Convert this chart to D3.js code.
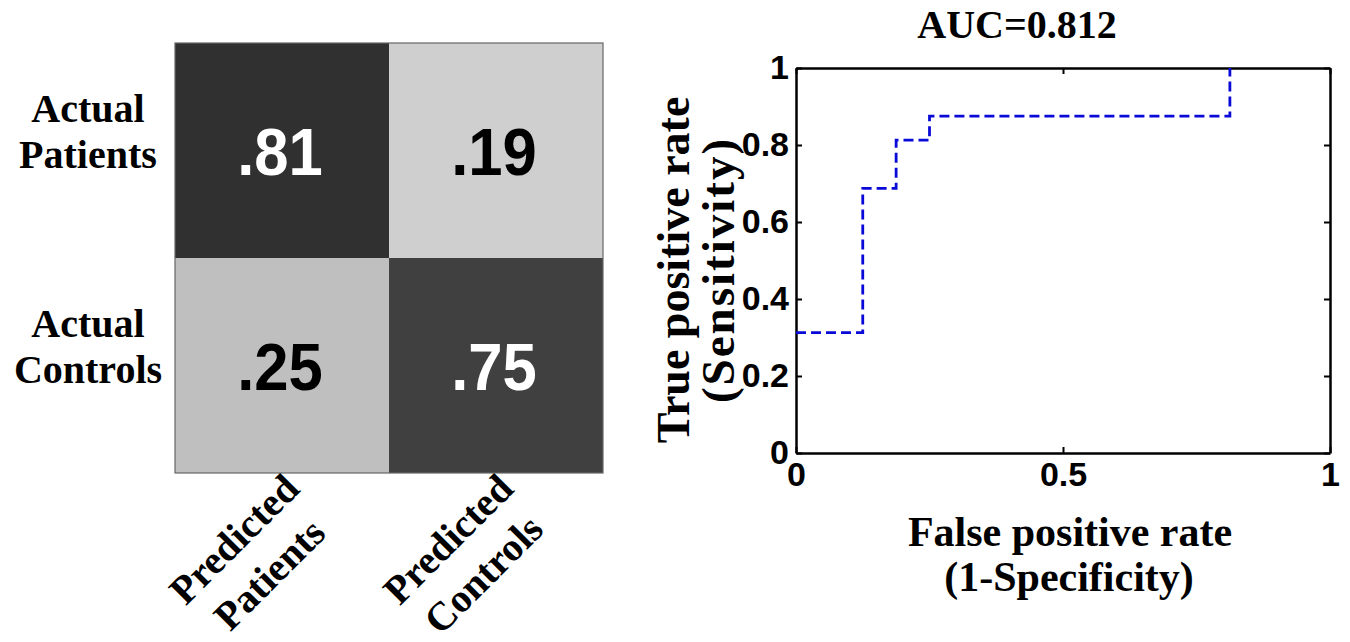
<!DOCTYPE html>
<html>
<head>
<meta charset="utf-8">
<script src="https://cdn.jsdelivr.net/npm/d3@7"></script>
<style>
  body { margin: 0; background: #fff; }
  .serif { font-family: "Liberation Serif", "Times New Roman", serif; font-weight: bold; }
  .sans { font-family: "Liberation Sans", Arial, sans-serif; font-weight: bold; }
</style>
</head>
<body>
<div class="canvas"></div>
<script>
const width = 1350;
const height = 642;

// confusion matrix data
const rowLabels = [["Actual", "Patients"], ["Actual", "Controls"]];
const colLabels = [["Predicted", "Patients"], ["Predicted", "Controls"]];
const matrixValues = [[0.81, 0.19], [0.25, 0.75]];

// roc curve data
const fpr = [0, 0.125, 0.125, 0.1875, 0.1875, 0.25, 0.25, 0.8125, 0.8125];
const tpr = [0.3125, 0.3125, 0.6875, 0.6875, 0.8125, 0.8125, 0.875, 0.875, 1];
const xTicks = [0, 0.5, 1];
const yTicks = [0, 0.2, 0.4, 0.6, 0.8, 1];
const auc = 0.812;

const svg = d3
  .select(".canvas")
  .append("svg")
  .attr("width", width)
  .attr("height", height);

svg.append("rect").attr("width", width).attr("height", height).attr("fill", "#fff");

// ---------- confusion matrix ----------
const mx = d3.scaleBand().domain([0, 1]).range([175, 603]);
const my = d3.scaleBand().domain([0, 1]).range([43, 473]);
const grey = d3.scaleLinear().domain([0, 1]).range(["#ffffff", "#000000"]);

const cells = [];
matrixValues.forEach((row, r) => row.forEach((v, c) => cells.push({ r, c, v })));

const matrix = svg.append("g");

matrix
  .selectAll("rect.cell")
  .data(cells)
  .enter()
  .append("rect")
  .attr("class", "cell")
  .attr("x", d => mx(d.c))
  .attr("y", d => my(d.r))
  .attr("width", mx.bandwidth())
  .attr("height", my.bandwidth())
  .attr("fill", d => grey(d.v));

matrix
  .append("rect")
  .attr("x", 175)
  .attr("y", 43)
  .attr("width", 428)
  .attr("height", 430)
  .attr("fill", "none")
  .attr("stroke", "#666")
  .attr("stroke-width", 1.2);

// values, slightly condensed like the original
matrix
  .selectAll("text.val")
  .data(cells)
  .enter()
  .append("text")
  .attr("class", "val sans")
  .attr("transform", d => `translate(${mx(d.c) + mx.bandwidth() / 2 - 2}, ${my(d.r) + my.bandwidth() / 2 + 24}) scale(0.92, 1)`)
  .attr("text-anchor", "middle")
  .attr("font-size", 67)
  .attr("fill", d => (d.v > 0.5 ? "#fff" : "#000"))
  .text(d => d3.format(".2f")(d.v).replace(/^0/, ""));

// row labels
const rowText = matrix
  .selectAll("text.row")
  .data(rowLabels)
  .enter()
  .append("text")
  .attr("class", "row serif")
  .attr("font-size", 40)
  .attr("text-anchor", "middle");

rowText
  .append("tspan")
  .attr("x", 88)
  .attr("y", (d, i) => my(i) + my.bandwidth() / 2 - 29)
  .text(d => d[0]);

rowText
  .append("tspan")
  .attr("x", 88)
  .attr("y", (d, i) => my(i) + my.bandwidth() / 2 + 17)
  .text(d => d[1]);

// rotated column labels
const colGroup = matrix
  .selectAll("g.col")
  .data(colLabels)
  .enter()
  .append("g")
  .attr("class", "col serif")
  .attr("transform", (d, i) => `translate(${mx(i) + mx.bandwidth() / 2 - 30}, 557) rotate(-45)`);

colGroup
  .append("text")
  .attr("text-anchor", "middle")
  .attr("font-size", 40)
  .attr("y", -12)
  .text(d => d[0]);

colGroup
  .append("text")
  .attr("text-anchor", "middle")
  .attr("font-size", 40)
  .attr("y", 38)
  .text(d => d[1]);

// ---------- roc curve ----------
const roc = { left: 796, right: 1330, top: 68, bottom: 453 };

const xScale = d3.scaleLinear().domain([0, 1]).range([roc.left, roc.right]);
const yScale = d3.scaleLinear().domain([0, 1]).range([roc.bottom, roc.top]);

const fmt = d => String(d);

const xAxis = svg
  .append("g")
  .attr("transform", `translate(0, ${roc.bottom})`)
  .call(d3.axisBottom(xScale).tickValues(xTicks).tickFormat(fmt).tickSizeInner(-6).tickSizeOuter(0).tickPadding(9));

const yAxis = svg
  .append("g")
  .attr("transform", `translate(${roc.left}, 0)`)
  .call(d3.axisLeft(yScale).tickValues(yTicks).tickFormat(fmt).tickSizeInner(-6).tickSizeOuter(0).tickPadding(7));

const topAxis = svg
  .append("g")
  .attr("transform", `translate(0, ${roc.top})`)
  .call(d3.axisTop(xScale).tickValues(xTicks).tickFormat("").tickSizeInner(-6).tickSizeOuter(0));

const rightAxis = svg
  .append("g")
  .attr("transform", `translate(${roc.right}, 0)`)
  .call(d3.axisRight(yScale).tickValues(yTicks).tickFormat("").tickSizeInner(-6).tickSizeOuter(0));

[xAxis, yAxis, topAxis, rightAxis].forEach(a => {
  a.select(".domain").attr("stroke", "#000").attr("stroke-width", 2.5);
  a.selectAll(".tick line").attr("stroke", "#000").attr("stroke-width", 2);
  a.selectAll(".tick text")
    .attr("class", "sans")
    .attr("font-size", 34)
    .attr("fill", "#000");
});

// curve
const line = d3
  .line()
  .x(d => xScale(d[0]))
  .y(d => yScale(d[1]));

svg
  .append("path")
  .datum(fpr.map((f, i) => [f, tpr[i]]))
  .attr("d", line)
  .attr("fill", "none")
  .attr("stroke", "#0a0ad8")
  .attr("stroke-width", 2.8)
  .attr("stroke-dasharray", "10,5");

// title and axis labels
svg
  .append("text")
  .attr("class", "serif")
  .attr("x", 1017)
  .attr("y", 38)
  .attr("text-anchor", "middle")
  .attr("font-size", 40)
  .text(`AUC=${auc}`);

const xLabel = svg.append("text").attr("class", "serif").attr("text-anchor", "middle").attr("font-size", 42);
xLabel.append("tspan").attr("x", 1070).attr("y", 546).text("False positive rate");
xLabel.append("tspan").attr("x", 1069).attr("y", 591).text("(1-Specificity)");

const yLabel = svg
  .append("g")
  .attr("transform", "translate(689, 270) rotate(-90)");

yLabel.append("text").attr("class", "serif").attr("text-anchor", "middle").attr("font-size", 46).attr("y", 0).text("True positive rate");
yLabel.append("text").attr("class", "serif").attr("text-anchor", "middle").attr("font-size", 47).attr("letter-spacing", 2).attr("y", 45).text("(Sensitivity)");
</script>
</body>
</html>
